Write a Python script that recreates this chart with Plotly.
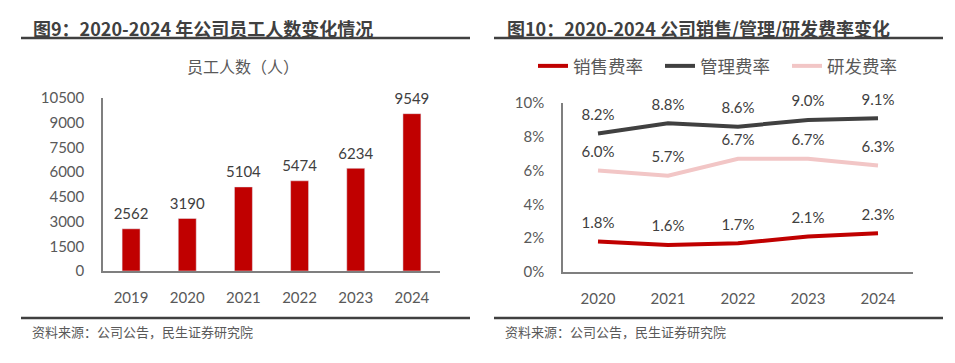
import plotly.graph_objects as go

# ---- data ----
emp_years = ["2019", "2020", "2021", "2022", "2023", "2024"]
emp_counts = [2562, 3190, 5104, 5474, 6234, 9549]
emp_ticks = [0, 1500, 3000, 4500, 6000, 7500, 9000, 10500]

rate_years = ["2020", "2021", "2022", "2023", "2024"]
sales_rate = [1.8, 1.6, 1.7, 2.1, 2.3]
admin_rate = [8.2, 8.8, 8.6, 9.0, 9.1]
rd_rate = [6.0, 5.7, 6.7, 6.7, 6.3]
rate_ticks = [0, 2, 4, 6, 8, 10]

W, H = 955, 363
def px(x):
    return x / W
def py(y):
    return 1 - y / H

NUM = "Lato, 'Noto Sans CJK SC', sans-serif"
CJK = "'Noto Sans CJK SC', sans-serif"
TXT = "#595959"
DARK = "#404040"

fig = go.Figure()

fig.add_trace(go.Bar(x=emp_years, y=emp_counts, marker_color="#C00000", width=0.32,
                     xaxis="x", yaxis="y", showlegend=False, hoverinfo="skip"))
# bar value labels
fig.add_trace(go.Scatter(x=emp_years, y=emp_counts, mode="text+markers",
                         marker=dict(size=8, opacity=0),
                         text=[str(v) for v in emp_counts], textposition="top center",
                         textfont=dict(family=NUM, size=15, color=DARK), cliponaxis=False,
                         xaxis="x", yaxis="y", showlegend=False, hoverinfo="skip"))

series = [("销售费率", sales_rate, "#C00000"),
          ("管理费率", admin_rate, "#404040"),
          ("研发费率", rd_rate, "#F2C6C6")]
for name, vals, col in series:
    fig.add_trace(go.Scatter(x=rate_years, y=vals, mode="lines", name=name,
                             line=dict(color=col, width=4),
                             xaxis="x2", yaxis="y2", hoverinfo="skip"))
for name, vals, col in series:
    fig.add_trace(go.Scatter(x=rate_years, y=vals, mode="text+markers",
                             marker=dict(size=14, opacity=0, color=col),
                             text=[f"{v:.1f}%" for v in vals], textposition="top center",
                             textfont=dict(family=NUM, size=15, color=DARK),
                             cliponaxis=False, showlegend=False,
                             xaxis="x2", yaxis="y2", hoverinfo="skip"))

annotations = [
    dict(x=px(31), y=py(28), xref="paper", yref="paper", xanchor="left", yanchor="middle",
         text="<b>图9：2020-2024 年公司员工人数变化情况</b>", showarrow=False,
         font=dict(family=CJK, size=18, color=DARK)),
    dict(x=px(505), y=py(28), xref="paper", yref="paper", xanchor="left", yanchor="middle",
         text="<b>图10：2020-2024 公司销售/管理/研发费率变化</b>", showarrow=False,
         font=dict(family=CJK, size=18, color=DARK)),
    dict(x=px(243), y=py(66), xref="paper", yref="paper", xanchor="center", yanchor="middle",
         text="员工人数（人）", showarrow=False, font=dict(family=CJK, size=16, color=TXT)),
    dict(x=px(30), y=py(331), xref="paper", yref="paper", xanchor="left", yanchor="middle",
         text="资料来源：公司公告，民生证券研究院", showarrow=False,
         font=dict(family=CJK, size=13, color=TXT)),
    dict(x=px(503), y=py(331), xref="paper", yref="paper", xanchor="left", yanchor="middle",
         text="资料来源：公司公告，民生证券研究院", showarrow=False,
         font=dict(family=CJK, size=13, color=TXT)),
]

shapes = []
for x0, x1 in [(21, 470), (494, 943)]:
    for yy in (38, 318):
        shapes.append(dict(type="line", xref="paper", yref="paper",
                           x0=px(x0), x1=px(x1), y0=py(yy), y1=py(yy),
                           line=dict(color=DARK, width=2.5)))

axis_common = dict(showgrid=False, zeroline=False, showline=True, linecolor="#7F7F7F",
                   linewidth=1.5, ticks="", tickfont=dict(family=NUM, size=15, color=TXT),
                   fixedrange=True, automargin=False)

fig.update_layout(
    width=W, height=H, margin=dict(l=0, r=0, t=0, b=0, autoexpand=False),
    paper_bgcolor="white", plot_bgcolor="white",
    annotations=annotations, shapes=shapes,
    xaxis=dict(domain=[px(103), px(440)], anchor="y", type="category",
               range=[-0.5, 5.5], ticklabelstandoff=12, **axis_common),
    yaxis=dict(domain=[py(271), py(98)], anchor="x", range=[0, 10500],
               tickvals=emp_ticks, tickformat="d", ticklabelstandoff=14, **axis_common),
    xaxis2=dict(domain=[px(563), px(913)], anchor="y2", type="category",
                range=[-0.5, 4.5], ticklabelstandoff=12, **axis_common),
    yaxis2=dict(domain=[py(272), py(103)], anchor="x2", range=[0, 10],
                tickvals=rate_ticks, ticktext=[f"{t}%" for t in rate_ticks],
                ticklabelstandoff=14, **axis_common),
    legend=dict(orientation="h", x=px(533), y=py(66), xanchor="left", yanchor="middle",
                font=dict(family=CJK, size=17.5, color=TXT), bgcolor="rgba(0,0,0,0)",
                itemwidth=30, entrywidth=82, tracegroupgap=0),
    bargap=0.68,
)

fig.write_html("out.html", config={"displayModeBar": False},
               post_script="document.body.style.margin='0';document.body.style.overflow='hidden';")
